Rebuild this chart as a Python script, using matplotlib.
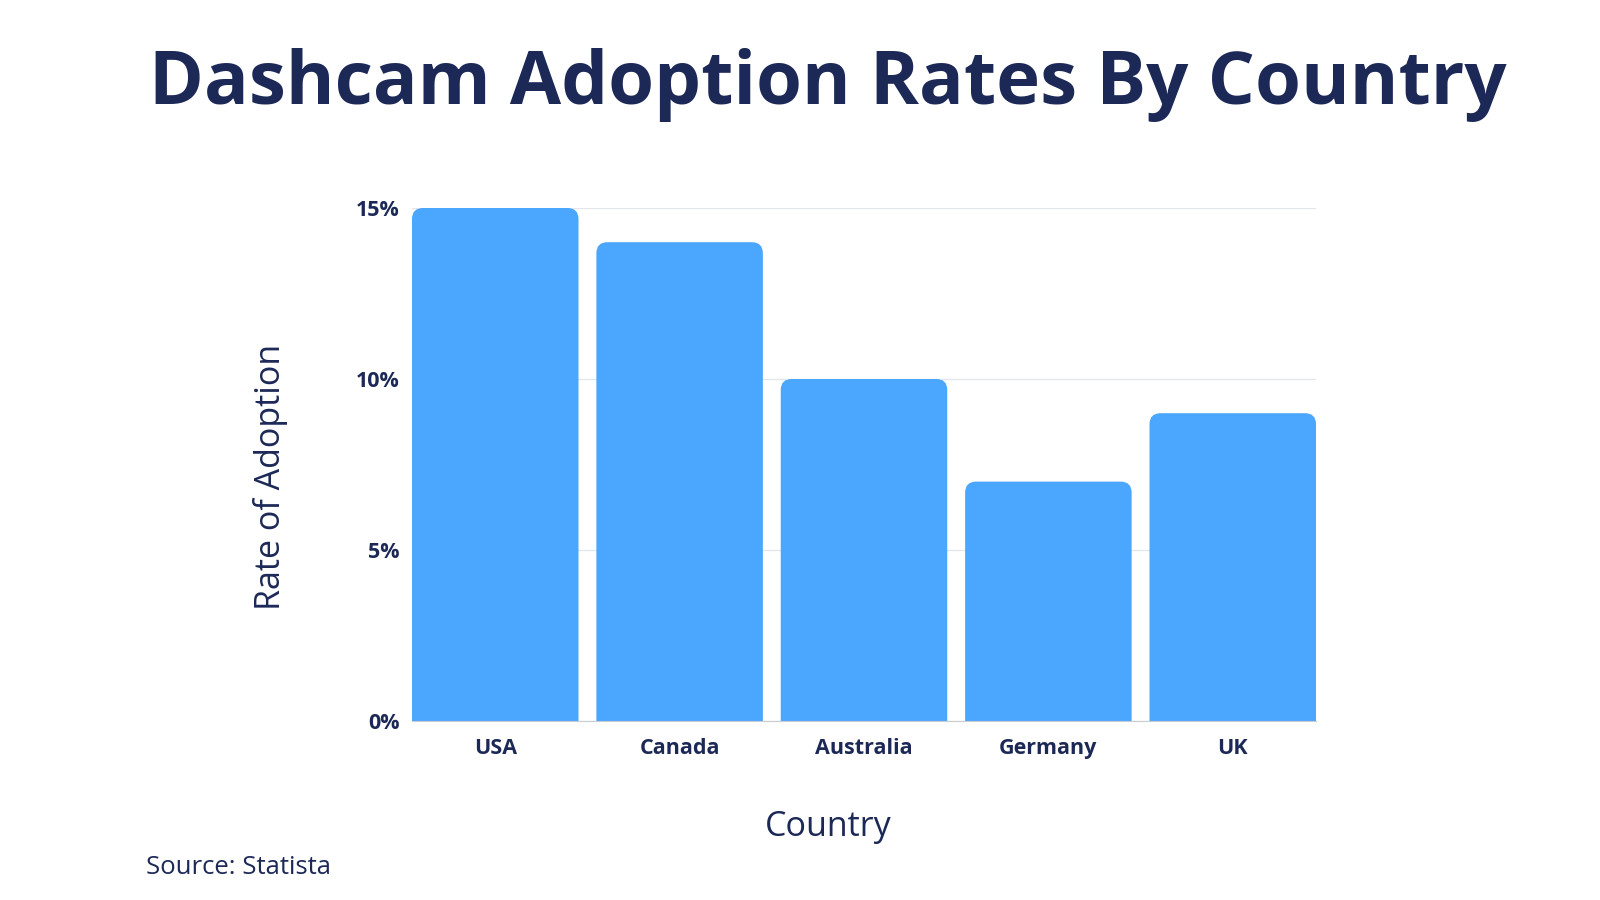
import numpy as np
from matplotlib import pyplot as plt
from matplotlib.path import Path
from matplotlib.patches import PathPatch

countries = ['USA', 'Canada', 'Australia', 'Germany', 'UK']
adoption = [15, 14, 10, 7, 9]
yticks = [0, 5, 10, 15]
ytick_labels = ['0%', '5%', '10%', '15%']

navy = '#1c2957'
blue = '#4ba6fd'

plt.rcParams['font.family'] = ['Open Sans', 'DejaVu Sans']

fig = plt.figure(figsize=(16, 9), dpi=100)
ax = fig.add_axes([412/1600, 1 - 721/900, 904/1600, 513/900])

w = 0.903
ax.set_xlim(-w / 2, len(countries) - 1 + w / 2)
ax.set_ylim(0, 15)

# corner radius of ~11 px, converted to data units on each axis
span_x = len(countries) - 1 + w
rx = 11 * span_x / 904
ry = 11 * 15 / 513


def top_rounded(x0, width, h):
    x1 = x0 + width
    verts = [(x0, 0), (x0, h - ry), (x0, h), (x0 + rx, h),
             (x1 - rx, h), (x1, h), (x1, h - ry), (x1, 0), (x0, 0)]
    codes = [Path.MOVETO, Path.LINETO, Path.CURVE3, Path.CURVE3,
             Path.LINETO, Path.CURVE3, Path.CURVE3, Path.LINETO, Path.CLOSEPOLY]
    return Path(verts, codes)


for i, v in enumerate(adoption):
    ax.add_patch(PathPatch(top_rounded(i - w / 2, w, v), fc=blue, ec='none', zorder=3))

tick_font = dict(fontweight='bold', fontsize=15.5, color=navy)
ax.set_xticks(range(len(countries)), labels=countries, **tick_font)
ax.set_yticks(yticks, labels=ytick_labels, **tick_font)
ax.tick_params(length=0, pad=12)
ax.tick_params(axis='y', pad=9)

ax.grid(axis='y', color='#e3e6ea', lw=1, zorder=0)
for s in ['top', 'right', 'left']:
    ax.spines[s].set_visible(False)
ax.spines['bottom'].set_color('#c9ccd2')
ax.spines['bottom'].set_zorder(4)

fig.text(828/1600, 1 - 85/900, 'Dashcam Adoption Rates By Country', ha='center', va='center',
         fontsize=53.5, fontweight='bold', color=navy)
fig.text(271/1600, 1 - 477/900, 'Rate of Adoption', rotation=90, ha='center', va='center',
         fontsize=24.5, color=navy)
fig.text(828/1600, 1 - 827/900, 'Country', ha='center', va='center', fontsize=24.5, color=navy)
fig.text(146/1600, 1 - 868/900, 'Source: Statista', ha='left', va='center', fontsize=18.5, color=navy)

plt.savefig('out.png', dpi=100)
